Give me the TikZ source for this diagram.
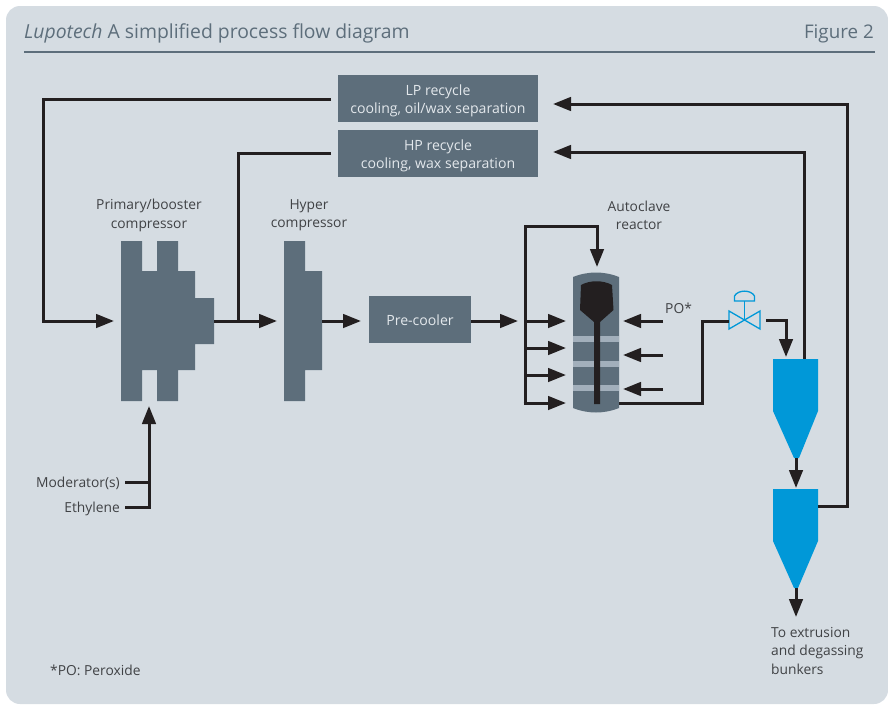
\documentclass[tikz,border=0pt]{standalone}
\usepackage{fontspec}
\setmainfont{Open Sans}
\usetikzlibrary{arrows.meta}
\definecolor{panel}{HTML}{D5DCE2}
\definecolor{slate}{HTML}{5D6E7B}
\definecolor{ink}{HTML}{231F20}
\definecolor{cyanblue}{HTML}{0098D8}
\definecolor{band}{HTML}{A2AFBB}
\definecolor{labelgrey}{HTML}{404245}
\definecolor{boxtext}{HTML}{E3E8EC}
\tikzset{
  flow/.style={draw=ink,line width=3pt,line join=miter},
  flowarrow/.style={flow,-{Triangle[length=18pt,width=13.5pt]}},
  equip/.style={fill=slate,draw=none},
  vessel/.style={fill=cyanblue,draw=none},
  boxnode/.style={fill=slate,text=boxtext,minimum width=200pt,minimum height=47pt,inner sep=0pt,align=center,font=\fontsize{14.1}{18}\selectfont},
  lbl/.style={text=labelgrey,inner sep=0pt,font=\fontsize{13.8}{18.4}\selectfont,align=center},
  valveline/.style={draw=cyanblue,line width=1.3pt,line join=miter},
}
\begin{document}
\begin{tikzpicture}[x=1pt,y=-1pt]
\useasboundingbox (0,0) rectangle (888,704);
\fill[panel,rounded corners=14pt] (6,6) rectangle (888,704);

% heading
\node[anchor=base west,inner sep=0pt,text=slate,font=\fontsize{19.35}{22}\selectfont] (title) at (24,38) {\textit{Lupotech} A simplified process flow diagram};
\node[anchor=base east,inner sep=0pt,text=slate,font=\fontsize{18.8}{22}\selectfont] (fig) at (874,38) {Figure 2};
\coordinate (ruleL) at (24,52);
\coordinate (ruleR) at (875,52);
\draw[slate,line width=1.3pt] (ruleL) -- (ruleR);

% boxes
\fill[slate] (338,75) rectangle (538,122);
\fill[slate] (338,130) rectangle (538,177);
\fill[slate] (369,296) rectangle (471,343);
\node[boxnode,fill=none] (lp) at (438,100.5) {LP recycle\\cooling, oil/wax separation};
\node[boxnode,fill=none] (hp) at (438,155.5) {HP recycle\\cooling, wax separation};
\node[boxnode,fill=none,minimum width=102pt,minimum height=47pt] (pre) at (420,320) {Pre-cooler};

% compressors
\fill[equip] (121,241) -- (142,241) -- (142,271) -- (157,271) -- (157,241) -- (178,241) -- (178,271) -- (195,271) -- (195,298) -- (214,298) -- (214,344) -- (195,344) -- (195,370) -- (178,370) -- (178,401) -- (157,401) -- (157,370) -- (142,370) -- (142,401) -- (121,401) -- cycle;
\fill[equip] (284,241) -- (305,241) -- (305,271) -- (322,271) -- (322,370) -- (305,370) -- (305,401) -- (284,401) -- cycle;

% reactor
\fill[equip] (573,277) .. controls (588,271) and (604,271) .. (619,277) -- (619,408) .. controls (604,414) and (588,414) .. (573,408) -- cycle;
\fill[band] (573,336) rectangle (619,342);
\fill[band] (573,361) rectangle (619,367);
\fill[band] (573,385) rectangle (619,391);
\fill[ink] (581,285) .. controls (590,280) and (603,280) .. (612,285) -- (613.500,310) -- (600,322) -- (600,404) -- (594,404) -- (594,322) -- (580,310) -- cycle;

% separators
\fill[vessel] (773,359) -- (818,359) -- (818,411) -- (799,458) -- (794,458) -- (773,411) -- cycle;
\fill[vessel] (773,489) -- (818,489) -- (818,541) -- (798,588) -- (794,588) -- (773,541) -- cycle;

% valve
\draw[valveline] (729,311) -- (760,329) -- (760,311) -- (729,329) -- cycle;
\draw[valveline] (744.500,320) -- (744.500,301);
\draw[valveline] (734.500,301) -- (734.500,296) .. controls (738,289.500) and (751,289.500) .. (754.500,296) -- (754.500,301) -- cycle;

% named ends
\coordinate (lpOut) at (331,99);
\coordinate (hpOut) at (331,153);
\coordinate (primIn) at (114,321);
\coordinate (primOut) at (214,321);
\coordinate (hyperIn) at (277,321);
\coordinate (hyperOut) at (322,321);
\coordinate (preIn) at (361,321);
\coordinate (preOut) at (471,321);
\coordinate (manIn) at (518,321);
\coordinate (reTop) at (597,267);
\coordinate (reOut) at (619,403);
\coordinate (valveIn) at (729,321);
\coordinate (valveOut) at (766,320.500);
\coordinate (sepAIn) at (786,357);
\coordinate (sepATop) at (804,359);
\coordinate (sepABot) at (796,458);
\coordinate (sepBIn) at (796,488);
\coordinate (sepBSide) at (818,506);
\coordinate (sepBBot) at (796,588);
\coordinate (bunkers) at (796,617);
\coordinate (lpIn) at (553,104);
\coordinate (hpIn) at (553,152);
\coordinate (primBot) at (149,406);
\coordinate (modEnd) at (125,482);
\coordinate (ethEnd) at (125,507);

% connectors
\draw[flowarrow] (lpOut) -- (43,99) -- (43,321) -- (primIn);
\draw[flow] (hpOut) -- (238,153) -- (238,321);
\draw[flowarrow] (primOut) -- (hyperIn);
\draw[flowarrow] (hyperOut) -- (preIn);
\draw[flowarrow] (preOut) -- (manIn);
\draw[flowarrow] (525,321) -- (525,226) -- (597,226) -- (reTop);
\draw[flow] (525,321) -- (525,403);
\draw[flowarrow] (525,321) -- (566,321);
\draw[flowarrow] (525,348) -- (566,348);
\draw[flowarrow] (525,375) -- (566,375);
\draw[flowarrow] (523.500,403) -- (566,403);
\draw[flowarrow] (663,321) -- (623,321);
\draw[flowarrow] (663,355) -- (623,355);
\draw[flowarrow] (663,389) -- (623,389);
\draw[flow] (reOut) -- (702,403) -- (702,321) -- (valveIn);
\draw[flowarrow] (valveOut) -- (786,320.500) -- (sepAIn);
\draw[flowarrow] (sepATop) -- (804,152) -- (hpIn);
\draw[flowarrow] (sepABot) -- (sepBIn);
\draw[flowarrow] (sepBSide) -- (847,506) -- (847,104) -- (lpIn);
\draw[flowarrow] (sepBBot) -- (bunkers);
\draw[flowarrow] (ethEnd) -- (149,507) -- (primBot);
\draw[flow] (modEnd) -- (149,482);

% labels
\node[lbl] (primL) at (149,215.500) {Primary/booster\\compressor};
\node[lbl] (hyperL) at (309,215.500) {Hyper\\compressor};
\node[lbl] (reacL) at (639,215.500) {Autoclave\\reactor};
\node[lbl,anchor=base west] (po) at (665,313) {PO*};
\node[lbl,anchor=base east] (mod) at (120,487) {Moderator(s)};
\node[lbl,anchor=base east] (eth) at (120,512) {Ethylene};
\node[lbl,anchor=north west,align=left] (ext) at (771,627) {To extrusion\\and degassing\\bunkers};
\node[lbl,anchor=base west] (note) at (50,675) {*PO: Peroxide};
\end{tikzpicture}
\end{document}
